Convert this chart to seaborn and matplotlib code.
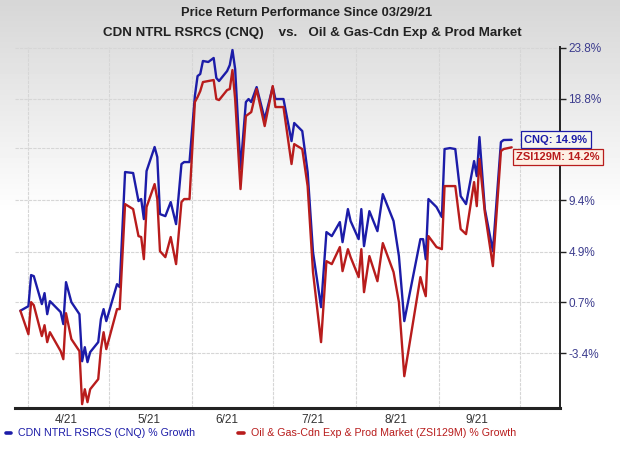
#!/usr/bin/env python3
"""Price return performance: CNQ vs. Oil & Gas-Cdn Exp & Prod Market."""
import numpy as np, pandas as pd
import matplotlib; matplotlib.use('Agg')
import matplotlib.pyplot as plt
import matplotlib.dates as mdates
from matplotlib.ticker import FixedLocator, NullFormatter
import seaborn as sns

# ─── Data (% growth since 03/29/21) ───
dates = ['2021-03-29', '2021-04-01', '2021-04-02', '2021-04-03', '2021-04-06', '2021-04-07',
         '2021-04-08', '2021-04-09', '2021-04-13', '2021-04-14', '2021-04-15', '2021-04-17',
         '2021-04-20', '2021-04-21', '2021-04-22', '2021-04-23', '2021-04-24', '2021-04-27',
         '2021-04-28', '2021-04-29', '2021-04-30', '2021-05-04', '2021-05-05', '2021-05-07',
         '2021-05-10', '2021-05-12', '2021-05-13', '2021-05-14', '2021-05-15', '2021-05-18',
         '2021-05-19', '2021-05-20', '2021-05-22', '2021-05-24', '2021-05-26', '2021-05-28',
         '2021-05-29', '2021-05-31', '2021-06-02', '2021-06-03', '2021-06-04', '2021-06-05',
         '2021-06-07', '2021-06-09', '2021-06-10', '2021-06-11', '2021-06-14', '2021-06-15',
         '2021-06-16', '2021-06-17', '2021-06-19', '2021-06-21', '2021-06-22', '2021-06-23',
         '2021-06-25', '2021-06-28', '2021-07-01', '2021-07-02', '2021-07-05', '2021-07-08',
         '2021-07-09', '2021-07-12', '2021-07-14', '2021-07-16', '2021-07-19', '2021-07-21',
         '2021-07-23', '2021-07-26', '2021-07-27', '2021-07-29', '2021-07-30', '2021-08-02',
         '2021-08-03', '2021-08-04', '2021-08-06', '2021-08-09', '2021-08-11', '2021-08-15',
         '2021-08-17', '2021-08-19', '2021-08-25', '2021-08-26', '2021-08-27', '2021-08-28',
         '2021-08-31', '2021-09-02', '2021-09-03', '2021-09-05', '2021-09-07', '2021-09-09',
         '2021-09-11', '2021-09-14', '2021-09-15', '2021-09-16', '2021-09-18', '2021-09-21',
         '2021-09-24', '2021-09-25', '2021-09-28']
cnq = [0.0, 0.37, 2.94, 2.85, 0.54, 1.44,
       -0.28, 0.78, -0.11, -1.08, 2.35, 0.70,
       -0.28, -4.02, -2.92, -4.09, -3.31, -2.52,
       -0.68, 0.13, -0.84, 2.18, 1.94, 11.93,
       11.84, 9.32, 9.50, 7.73, 12.02, 14.23,
       13.30, 8.17, 7.99, 9.23, 7.29, 12.66,
       12.84, 12.84, 19.06, 21.01, 21.21, 22.50,
       22.40, 22.80, 20.82, 20.52, 21.50, 22.10,
       23.60, 21.70, 12.20, 18.48, 18.77, 18.48,
       19.93, 16.85, 19.93, 18.77, 18.77, 14.78,
       16.48, 15.72, 11.93, 4.88, 0.29, 6.60,
       6.25, 7.47, 5.73, 8.61, 7.56, 5.99,
       8.61, 5.39, 8.43, 6.68, 9.94, 7.56,
       4.54, -0.84, 5.99, 5.99, 4.28, 9.50,
       8.79, 7.91, 14.04, 14.13, 14.04, 9.76,
       9.05, 12.93, 11.56, 15.16, 8.61, 4.96,
       14.69, 14.88, 14.9]
zsi = [0.0, -1.89, 0.70, 0.45, -2.04, -1.17,
       -2.52, -1.73, -3.23, -3.86, -0.20, -2.28,
       -3.23, -7.31, -6.18, -7.16, -6.18, -5.41,
       -3.07, -1.73, -3.07, 0.13, 0.13, 9.05,
       8.61, 6.25, 6.17, 4.28, 8.79, 10.84,
       9.50, 4.96, 4.45, 6.17, 3.86, 9.23,
       9.50, 9.50, 18.48, 18.96, 19.54, 20.42,
       20.52, 20.62, 18.77, 18.67, 19.64, 19.74,
       21.60, 18.77, 10.39, 17.14, 17.33, 17.52,
       19.74, 16.19, 20.03, 18.00, 18.00, 12.66,
       14.50, 14.04, 10.66, 3.19, -2.52, 4.11,
       3.86, 5.31, 3.27, 5.13, 4.45, 2.77,
       5.13, 1.52, 4.54, 2.43, 5.65, 3.19,
       0.70, -5.18, 2.77, 1.90, 1.19, 6.25,
       5.31, 5.13, 10.66, 10.66, 10.66, 6.86,
       6.42, 11.02, 8.87, 13.12, 8.34, 3.69,
       13.85, 14.04, 14.2]

CNQ_LABEL = 'CDN NTRL RSRCS (CNQ) % Growth'
ZSI_LABEL = 'Oil & Gas-Cdn Exp & Prod Market (ZSI129M) % Growth'
end_labels = ['CNQ: 14.9%', 'ZSI129M: 14.2%']

ytick_vals = [-3.4, 0.7, 4.9, 9.4, 14.1, 18.8, 23.8]
ytick_labels = ['-3.4%', '0.7%', '4.9%', '9.4%', '', '18.8%', '23.8%']
month_starts = ['2021-04-01', '2021-05-01', '2021-06-01', '2021-07-01',
                '2021-08-01', '2021-09-01', '2021-10-01']
month_label_dates = ['2021-04-15', '2021-05-16', '2021-06-14', '2021-07-16',
                     '2021-08-16', '2021-09-15']
month_labels = ['4/21', '5/21', '6/21', '7/21', '8/21', '9/21']

BLUE, RED = '#1c1ca8', '#b81c1c'

# ─── Style ───
sns.set_style('white')
plt.rcParams['font.family'] = ['Liberation Sans', 'DejaVu Sans']

fig = plt.figure(figsize=(6.2, 4.49), dpi=100)

# grey-to-white backdrop
bg = fig.add_axes([0, 0, 1, 1], zorder=-2)
shade = np.clip(0.84 + 0.16 * np.linspace(0, 1, 449) / 0.48, 0, 1)
bg.imshow(np.repeat(shade[:, None], 2, axis=1), cmap='gray', vmin=0, vmax=1,
          aspect='auto', extent=(0, 1, 0, 1))
bg.axis('off')

ax = fig.add_axes([15/620, 1 - 408/449, 545/620, 361/449])
ax.set_facecolor('none')

df = pd.DataFrame({'date': pd.to_datetime(dates), CNQ_LABEL: cnq, ZSI_LABEL: zsi})
long = df.melt('date', var_name='series', value_name='pct')
sns.lineplot(data=long, x='date', y='pct', hue='series', palette=[BLUE, RED],
             lw=1.7, ax=ax)

# price-ratio (log) scale on the growth axis
ax.set_yscale('function', functions=(lambda p: np.log1p(np.asarray(p) / 100),
                                     lambda v: np.expm1(np.asarray(v)) * 100))
ax.set_ylim(-7.6, 23.9)
ax.set_xlim(pd.Timestamp('2021-03-27'), pd.Timestamp('2021-10-16'))

ax.yaxis.tick_right()
ax.yaxis.set_major_locator(FixedLocator(ytick_vals))
ax.set_yticklabels(ytick_labels)
ax.yaxis.set_minor_locator(FixedLocator([]))
ax.tick_params(axis='y', which='major', right=True, length=4, width=1, color='#222222',
               labelcolor='#3c3c8e', labelsize=8.5, pad=2)

ax.xaxis.set_major_locator(FixedLocator(mdates.date2num(pd.to_datetime(month_starts))))
ax.xaxis.set_major_formatter(NullFormatter())
ax.xaxis.set_minor_locator(FixedLocator(mdates.date2num(pd.to_datetime(month_label_dates))))
ax.xaxis.set_minor_formatter(plt.FixedFormatter(month_labels))
ax.tick_params(axis='x', which='both', length=0, labelsize=8.5, labelcolor='#333333', pad=4)

ax.grid(True, which='major', color='#d6d6d6', lw=0.8, ls=(0, (3, 1)))
ax.set_xlabel(''); ax.set_ylabel('')

for side in ['left', 'top']:
    ax.spines[side].set_visible(False)
ax.spines['bottom'].set_linewidth(2.2)
ax.spines['right'].set_linewidth(1.4)
ax.spines['bottom'].set_color('#222222')
ax.spines['right'].set_color('#222222')

# end-of-series tags
for val, txt, dy, dx, col, face in [(cnq[-1], end_labels[0], 0, 9, BLUE, '#f6f5ee'),
                                    (zsi[-1], end_labels[1], -7, 3, RED, '#fdf0e4')]:
    ax.annotate(txt, xy=(pd.Timestamp(dates[-1]), val), xytext=(dx, dy),
                textcoords='offset points', ha='left', va='center', fontsize=8,
                fontweight='bold', color=col, annotation_clip=False, zorder=5,
                bbox=dict(boxstyle='square,pad=0.3', fc=face, ec=col, lw=0.9))

# legend under the axis
sns.move_legend(ax, 'upper left', bbox_to_anchor=(-0.035, -0.03), ncol=2, frameon=False,
                title=None, handlelength=0.5, handletextpad=0.7, columnspacing=4.0,
                fontsize=7.7)
leg = ax.get_legend()
for h, t, c in zip(leg.legend_handles, leg.get_texts(), [BLUE, RED]):
    h.set_linewidth(2.6)
    t.set_color(c)

fig.text(0.495, 1 - 13/449, 'Price Return Performance Since 03/29/21', ha='center',
         va='center', fontsize=9.3, fontweight='bold', color='#222222')
fig.text(0.503, 1 - 33/449, 'CDN NTRL RSRCS (CNQ)    vs.   Oil & Gas-Cdn Exp & Prod Market',
         ha='center', va='center', fontsize=9.6, fontweight='bold', color='#222222')

fig.savefig('out.png', dpi=100)
plt.close(fig)
